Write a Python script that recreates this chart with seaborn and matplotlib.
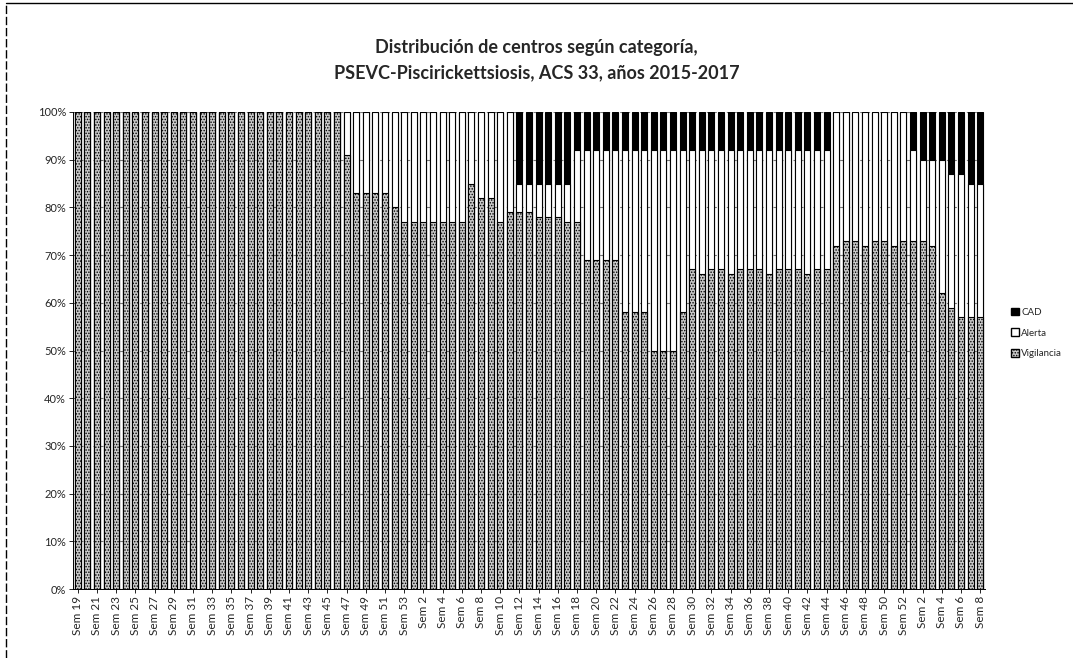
import matplotlib
matplotlib.use("Agg")
import pandas as pd
import matplotlib.pyplot as plt
import seaborn as sns
from matplotlib.patches import Patch
from matplotlib.lines import Line2D

# week labels (2015: Sem 19-53, 2016: Sem 1-52, 2017: Sem 1-8)
semanas = ([f"Sem {s}" for s in range(19, 54)]
           + [f"Sem {s}" for s in range(1, 53)]
           + [f"Sem {s}" for s in range(1, 9)])

# % of centres per category
vig_2015 = [100] * 28 + [91, 83, 83, 83, 83, 80, 77]
ale_2015 = [0] * 28 + [9, 17, 17, 17, 17, 20, 23]
cad_2015 = [0] * 35

vig_2016 = [77, 77, 77, 77, 77, 77, 85, 82, 82, 77, 79,
            79, 79, 78, 78, 78, 77, 77,
            69, 69, 69, 69, 58, 58, 58, 50, 50, 50, 58,
            67, 66, 67, 67, 66, 67, 67, 67, 66, 67, 67, 67, 66, 67, 67,
            72, 73, 73, 72, 73, 73, 72, 73]
ale_2016 = [23, 23, 23, 23, 23, 23, 15, 18, 18, 23, 21,
            6, 6, 7, 7, 7, 8, 15,
            23, 23, 23, 23, 34, 34, 34, 42, 42, 42, 34,
            25, 26, 25, 25, 26, 25, 25, 25, 26, 25, 25, 25, 26, 25, 25,
            28, 27, 27, 28, 27, 27, 28, 27]
cad_2016 = ([0] * 11 + [15, 15, 15, 15, 15, 15] + [8] * 27 + [0] * 8)

vig_2017 = [73, 73, 72, 62, 59, 57, 57, 57]
ale_2017 = [19, 17, 18, 28, 28, 30, 28, 28]
cad_2017 = [8, 10, 10, 10, 13, 13, 15, 15]

df = pd.DataFrame({
    "pos": range(len(semanas)),
    "semana": semanas,
    "Vigilancia": vig_2015 + vig_2016 + vig_2017,
    "Alerta": ale_2015 + ale_2016 + ale_2017,
    "CAD": cad_2015 + cad_2016 + cad_2017,
})
df["vig_top"] = df["Vigilancia"]
df["ale_top"] = df["Vigilancia"] + df["Alerta"]
df["cad_top"] = df["ale_top"] + df["CAD"]

sns.set_style("white")
plt.rcParams["font.family"] = ["Lato", "DejaVu Sans"]
plt.rcParams["hatch.linewidth"] = 0.7

fig = plt.figure(figsize=(10.73, 6.58), dpi=100)
ax = fig.add_axes([73 / 1073, 1 - 589 / 658, 912 / 1073, 477 / 658])

bw = 0.64
vig_color = "#c9c9c9"
sns.barplot(data=df, x="pos", y="cad_top", color="black", saturation=1,
            width=bw, edgecolor="black", linewidth=0.8, errorbar=None, ax=ax)
sns.barplot(data=df, x="pos", y="ale_top", color="white", saturation=1,
            width=bw, edgecolor="black", linewidth=0.8, errorbar=None, ax=ax)
sns.barplot(data=df, x="pos", y="vig_top", color=vig_color, saturation=1,
            width=bw, edgecolor="black", linewidth=0.8, hatch="......",
            errorbar=None, ax=ax)

ax.set_xlim(-0.5, len(semanas) - 0.5)
ax.set_ylim(0, 100)
ax.set_yticks(range(0, 101, 10))
ax.set_yticklabels([f"{v}%" for v in range(0, 101, 10)], fontsize=8)
ax.set_xticks(df["pos"][::2])
ax.set_xticklabels(df["semana"][::2], rotation=90, fontsize=8.5)
ax.set_xlabel("")
ax.set_ylabel("")
ax.yaxis.grid(True, linestyle=(0, (3, 3)), color="#777777", linewidth=0.8)
ax.set_axisbelow(True)
ax.tick_params(axis="both", length=3, width=0.6, color="black", pad=2,
               direction="out", bottom=True, left=True)
for s in ["top", "right"]:
    ax.spines[s].set_visible(False)
for s in ["left", "bottom"]:
    ax.spines[s].set_color("black")
    ax.spines[s].set_linewidth(0.7)

fig.text(0.5, 1 - 60 / 658,
         "Distribución de centros según categoría,\n"
         "PSEVC-Piscirickettsiosis, ACS 33, años 2015-2017",
         ha="center", va="center", fontsize=13, fontweight="bold",
         linespacing=1.55)

handles = [
    Patch(facecolor="black", edgecolor="black", label="CAD"),
    Patch(facecolor="white", edgecolor="black", label="Alerta"),
    Patch(facecolor=vig_color, edgecolor="black", hatch="......",
          label="Vigilancia"),
]
fig.legend(handles=handles, loc="center left",
           bbox_to_anchor=(1002 / 1073, 1 - 333 / 658), frameon=False,
           fontsize=7, handlelength=0.8, handleheight=0.8,
           handletextpad=0.3, labelspacing=1.2)

# frame of the scanned page
fig.add_artist(Line2D([6 / 1073, 6 / 1073], [0, 1 - 3 / 658],
                      color="black", linewidth=1, linestyle=(0, (6, 2))))
fig.add_artist(Line2D([6 / 1073, 1], [1 - 3 / 658, 1 - 3 / 658],
                      color="black", linewidth=1))

fig.savefig("out.png", dpi=100)
